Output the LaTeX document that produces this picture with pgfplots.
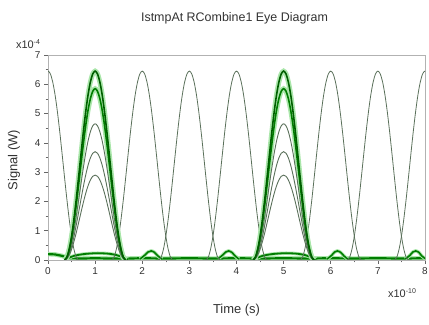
\documentclass[border=0pt]{standalone}
\usepackage{pgfplots}
\pgfplotsset{compat=1.18}
\usepackage{pgfplotstable}
\usepackage{fontspec}
\setmainfont{Liberation Sans}
\definecolor{thinc}{RGB}{90,112,90}
\definecolor{thickc}{RGB}{0,125,0}
\definecolor{darkc}{RGB}{0,95,0}
\definecolor{haloc}{RGB}{170,230,170}
\definecolor{txt}{RGB}{50,50,50}

\pgfplotstableread{
x0 x2 x3 x4 x6 x7 x8 y
-0.65 1.35 2.35 3.35 5.35 6.35 7.35 0
-0.60 1.40 2.40 3.40 5.40 6.40 7.40 0.094
-0.55 1.45 2.45 3.45 5.45 6.45 7.45 0.370
-0.50 1.50 2.50 3.50 5.50 6.50 7.50 0.811
-0.45 1.55 2.55 3.55 5.55 6.55 7.55 1.393
-0.40 1.60 2.60 3.60 5.60 6.60 7.60 2.081
-0.35 1.65 2.65 3.65 5.65 6.65 7.65 2.836
-0.30 1.70 2.70 3.70 5.70 6.70 7.70 3.614
-0.25 1.75 2.75 3.75 5.75 6.75 7.75 4.369
-0.20 1.80 2.80 3.80 5.80 6.80 7.80 5.057
-0.15 1.85 2.85 3.85 5.85 6.85 7.85 5.639
-0.10 1.90 2.90 3.90 5.90 6.90 7.90 6.080
-0.05 1.95 2.95 3.95 5.95 6.95 7.95 6.356
0.00 2.00 3.00 4.00 6.00 7.00 8.00 6.450
0.05 2.05 3.05 4.05 6.05 7.05 8.05 6.356
0.10 2.10 3.10 4.10 6.10 7.10 8.10 6.080
0.15 2.15 3.15 4.15 6.15 7.15 8.15 5.639
0.20 2.20 3.20 4.20 6.20 7.20 8.20 5.057
0.25 2.25 3.25 4.25 6.25 7.25 8.25 4.369
0.30 2.30 3.30 4.30 6.30 7.30 8.30 3.614
0.35 2.35 3.35 4.35 6.35 7.35 8.35 2.836
0.40 2.40 3.40 4.40 6.40 7.40 8.40 2.081
0.45 2.45 3.45 4.45 6.45 7.45 8.45 1.393
0.50 2.50 3.50 4.50 6.50 7.50 8.50 0.811
0.55 2.55 3.55 4.55 6.55 7.55 8.55 0.370
0.60 2.60 3.60 4.60 6.60 7.60 8.60 0.094
0.65 2.65 3.65 4.65 6.65 7.65 8.65 0
}\thintab

\pgfplotstableread{
x1 x5 A B C D E
0.35 4.35 0 0 0 0 0
0.40 4.40 0.094 0.085 0.067 0.054 0.042
0.45 4.45 0.370 0.335 0.266 0.212 0.166
0.50 4.50 0.811 0.735 0.585 0.465 0.365
0.55 4.55 1.393 1.264 1.004 0.799 0.626
0.60 4.60 2.081 1.888 1.501 1.194 0.936
0.65 4.65 2.836 2.572 2.045 1.627 1.275
0.70 4.70 3.614 3.278 2.605 2.073 1.625
0.75 4.75 4.369 3.962 3.149 2.506 1.964
0.80 4.80 5.057 4.587 3.646 2.901 2.274
0.85 4.85 5.639 5.115 4.065 3.235 2.535
0.90 4.90 6.080 5.515 4.384 3.488 2.734
0.95 4.95 6.356 5.765 4.583 3.646 2.858
1.00 5.00 6.450 5.850 4.650 3.700 2.900
1.05 5.05 6.356 5.765 4.583 3.646 2.858
1.10 5.10 6.080 5.515 4.384 3.488 2.734
1.15 5.15 5.639 5.115 4.065 3.235 2.535
1.20 5.20 5.057 4.587 3.646 2.901 2.274
1.25 5.25 4.369 3.962 3.149 2.506 1.964
1.30 5.30 3.614 3.278 2.605 2.073 1.625
1.35 5.35 2.836 2.572 2.045 1.627 1.275
1.40 5.40 2.081 1.888 1.501 1.194 0.936
1.45 5.45 1.393 1.264 1.004 0.799 0.626
1.50 5.50 0.811 0.735 0.585 0.465 0.365
1.55 5.55 0.370 0.335 0.266 0.212 0.166
1.60 5.60 0.094 0.085 0.067 0.054 0.042
1.65 5.65 0 0 0 0 0
}\thicktab

\pgfplotstableread{
xa xb y
0.40 4.40 0.04
0.55 4.55 0.14
0.75 4.75 0.20
1.00 5.00 0.23
1.25 5.25 0.22
1.45 5.45 0.17
1.60 5.60 0.08
1.70 5.70 0.03
}\plateau

\pgfplotstableread{
xa xb xc xd y
1.95 3.60 5.92 7.58 0.03
2.05 3.70 6.02 7.68 0.16
2.12 3.77 6.08 7.74 0.27
2.19 3.83 6.14 7.80 0.31
2.26 3.90 6.21 7.87 0.26
2.33 3.97 6.28 7.93 0.14
2.42 4.05 6.36 8.02 0.03
}\bumps

\pgfplotstableread{
x y
0.00 0.20
0.15 0.19
0.30 0.14
0.45 0.06
0.70 0.05
1.00 0.06
1.30 0.05
1.70 0.05
2.00 0.06
2.50 0.05
3.00 0.06
3.50 0.05
4.00 0.06
4.50 0.05
5.00 0.06
5.50 0.05
6.00 0.06
6.50 0.05
7.00 0.06
7.50 0.05
8.00 0.06
}\base

\begin{document}
\begin{tikzpicture}
\begin{axis}[
  scale only axis, width=377bp, height=205bp,
  xmin=0, xmax=8, ymin=0, ymax=7,
  xtick={0,1,...,8}, ytick={0,1,...,7},
  minor x tick num=1, minor y tick num=1,
  tick align=outside, tick pos=left,
  major tick length=4bp, minor tick length=2.5bp,
  axis line style={draw=gray!60, line width=0.8pt},
  tick style={draw=gray!80!black, line width=0.6pt},
  ticklabel style={font=\fontsize{10}{11}\selectfont, text=txt},
  /pgf/number format/assume math mode=true,
]
% baseline band
\addplot[haloc, line width=4.5pt] table[x=x, y=y] {\base};
\addplot[thickc, line width=2.2pt] table[x=x, y=y] {\base};
\addplot[haloc, line width=3.5pt, smooth] table[x=xa, y=y] {\plateau};
\addplot[haloc, line width=3.5pt, smooth] table[x=xb, y=y] {\plateau};
\addplot[thickc, line width=1.8pt, smooth] table[x=xa, y=y] {\plateau};
\addplot[thickc, line width=1.8pt, smooth] table[x=xb, y=y] {\plateau};
\foreach \c in {xa,xb,xc,xd}{
  \addplot[haloc, line width=3.5pt, smooth] table[x=\c, y=y] {\bumps};
  \addplot[thickc, line width=1.6pt, smooth] table[x=\c, y=y] {\bumps};
}
% thin pulses
\foreach \c in {x0,x2,x3,x4,x6,x7,x8}{
  \addplot[thinc, line width=0.8pt, smooth] table[x=\c, y=y] {\thintab};
}
% thick groups
\foreach \c in {x1,x5}{
  \addplot[haloc, line width=5pt, smooth] table[x=\c, y=A] {\thicktab};
  \addplot[haloc, line width=5pt, smooth] table[x=\c, y=B] {\thicktab};
  \addplot[thinc, line width=0.9pt, smooth] table[x=\c, y=C] {\thicktab};
  \addplot[thinc, line width=0.9pt, smooth] table[x=\c, y=D] {\thicktab};
  \addplot[thinc, line width=0.9pt, smooth] table[x=\c, y=E] {\thicktab};
  \addplot[thickc, line width=1.6pt, smooth] table[x=\c, y=B] {\thicktab};
  \addplot[darkc, line width=1.6pt, smooth] table[x=\c, y=A] {\thicktab};
}
\end{axis}
\node[text=txt, font=\fontsize{12.5}{14}\selectfont] at ([xshift=-2bp,yshift=36.5bp]current axis.north) {IstmpAt RCombine1 Eye Diagram};
\node[text=txt, font=\fontsize{13}{14}\selectfont, rotate=90] at ([xshift=-34bp,yshift=-2.5bp]current axis.west) {Signal (W)};
\node[text=txt, font=\fontsize{13}{14}\selectfont] at ([yshift=-50bp]current axis.south) {Time (s)};
\node[text=txt, font=\fontsize{11}{12}\selectfont] at ([xshift=-20bp,yshift=11bp]current axis.north west) {x10\raisebox{0.7ex}{\fontsize{7}{8}\selectfont -4}};
\node[text=txt, font=\fontsize{11}{12}\selectfont] at ([xshift=-23bp,yshift=-33bp]current axis.south east) {x10\raisebox{0.7ex}{\fontsize{7}{8}\selectfont -10}};
\pgfresetboundingbox
\path ([xshift=-48bp,yshift=-65bp]current axis.south west) rectangle ([xshift=4bp,yshift=55bp]current axis.north east);
\end{tikzpicture}
\end{document}
